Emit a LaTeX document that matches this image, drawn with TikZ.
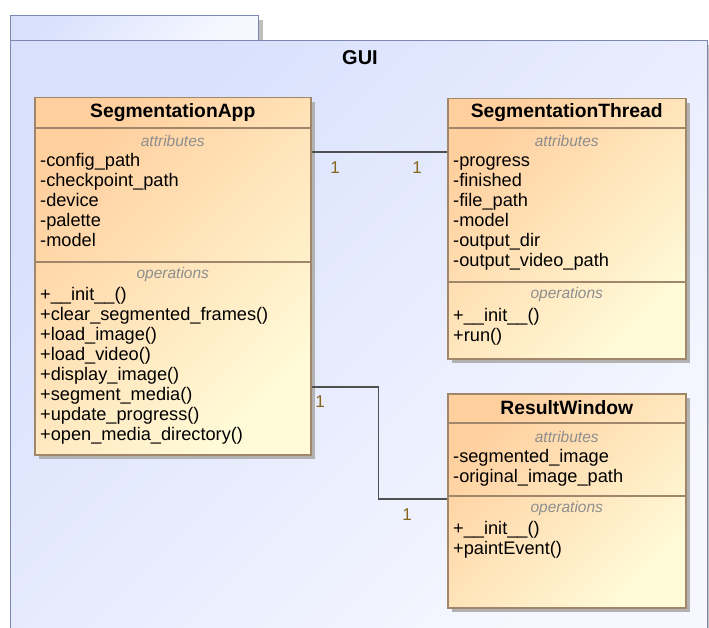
\documentclass[tikz,border=0pt]{standalone}
\usepackage{fontspec}
\setmainfont{Liberation Sans}
\usetikzlibrary{positioning,shadows}

\definecolor{pkgfill}{HTML}{D8E0FC}
\definecolor{pkgfade}{HTML}{F7F8FF}
\definecolor{pkgedge}{HTML}{7D88B0}
\definecolor{clsorange}{HTML}{FFCF9E}
\definecolor{clsyellow}{HTML}{FFFBD9}
\definecolor{clsedge}{HTML}{A0866A}
\definecolor{compgray}{HTML}{8E8E8E}
\definecolor{multgold}{HTML}{86661A}
\definecolor{assocgray}{HTML}{505050}

\tikzset{
    uml pkg/.style={draw=pkgedge, line width=1.4pt, inner sep=0pt,
                    top color=pkgfill, bottom color=pkgfade, shading angle=45,
                    anchor=north west,
                    drop shadow={shadow xshift=4pt, shadow yshift=-4pt,
                                 fill=black!25, opacity=1}},
    uml class/.style={draw=clsedge, line width=1.5pt, inner sep=0pt,
                      top color=clsorange, bottom color=clsyellow, shading angle=45,
                      anchor=north west,
                      drop shadow={shadow xshift=4pt, shadow yshift=-4pt,
                                   fill=black!30, opacity=1}},
    uml sep/.style={clsedge, line width=1.2pt},
    uml title/.style={font=\bfseries\fontsize{19.3}{22}\selectfont},
    uml comp/.style={font=\itshape\fontsize{15.5}{18}\selectfont, text=compgray},
    uml member/.style={font=\fontsize{18.2}{20}\selectfont, anchor=base west,
                       inner sep=0pt},
    uml assoc/.style={-, assocgray, line width=1.3pt},
    uml mult/.style={font=\fontsize{17}{20}\selectfont, text=multgold},
}

\begin{document}
\begin{tikzpicture}[x=1pt, y=-1pt]
    \useasboundingbox (0,0) rectangle (709,628);
    \clip (0,0) rectangle (709,628);
    \fill[white] (0,0) rectangle (709,628);

    % Package GUI
    \node[uml pkg, minimum width=248pt, minimum height=25pt] (gui-tab) at (10,15) {};
    \node[uml pkg, minimum width=697pt, minimum height=620pt] (gui) at (10,40) {};
    \node[font=\bfseries\fontsize{20}{24}\selectfont] (gui-name) at (360,58) {GUI};

    % SegmentationApp
    \node[uml class, minimum width=276pt, minimum height=357pt] (app) at (34,97) {};
    \node[uml title] (app-name) at ([yshift=-15.5pt]app.north) {SegmentationApp};
    \draw[uml sep] ([yshift=-31pt]app.north west) -- ([yshift=-31pt]app.north east);
    \node[uml comp] (app-attr) at ([yshift=-44pt]app.north) {attributes};
    \foreach \m [count=\i from 0] in {-config\_path, -checkpoint\_path, -device,
                                      -palette, -model}
        \node[uml member] (app-a\i) at (40, 167+20*\i) {\m};
    \draw[uml sep] ([yshift=-165pt]app.north west) -- ([yshift=-165pt]app.north east);
    \node[uml comp] (app-ops) at ([yshift=-177pt]app.north) {operations};
    \foreach \m [count=\i from 0] in {+\_\_init\_\_(), +clear\_segmented\_frames(),
            +load\_image(), +load\_video(), +display\_image(), +segment\_media(),
            +update\_progress(), +open\_media\_directory()}
        \node[uml member] (app-o\i) at (40, 300+20*\i) {\m};

    % SegmentationThread
    \node[uml class, minimum width=238pt, minimum height=260pt] (thread) at (447,98) {};
    \node[uml title] (thread-name) at ([yshift=-15pt]thread.north) {SegmentationThread};
    \draw[uml sep] ([yshift=-30pt]thread.north west) -- ([yshift=-30pt]thread.north east);
    \node[uml comp] (thread-attr) at ([yshift=-43pt]thread.north) {attributes};
    \foreach \m [count=\i from 0] in {-progress, -finished, -file\_path, -model,
                                      -output\_dir, -output\_video\_path}
        \node[uml member] (thread-a\i) at (453, 167+20*\i) {\m};
    \draw[uml sep] ([yshift=-184pt]thread.north west) -- ([yshift=-184pt]thread.north east);
    \node[uml comp] (thread-ops) at ([yshift=-196pt]thread.north) {operations};
    \foreach \m [count=\i from 0] in {+\_\_init\_\_(), +run()}
        \node[uml member] (thread-o\i) at (453, 321+20*\i) {\m};

    % ResultWindow
    \node[uml class, minimum width=238pt, minimum height=214pt] (result) at (447,393) {};
    \node[uml title] (result-name) at ([yshift=-15pt]result.north) {ResultWindow};
    \draw[uml sep] ([yshift=-30pt]result.north west) -- ([yshift=-30pt]result.north east);
    \node[uml comp] (result-attr) at ([yshift=-44pt]result.north) {attributes};
    \foreach \m [count=\i from 0] in {-segmented\_image, -original\_image\_path}
        \node[uml member] (result-a\i) at (453, 462+20*\i) {\m};
    \draw[uml sep] ([yshift=-103pt]result.north west) -- ([yshift=-103pt]result.north east);
    \node[uml comp] (result-ops) at ([yshift=-115pt]result.north) {operations};
    \foreach \m [count=\i from 0] in {+\_\_init\_\_(), +paintEvent()}
        \node[uml member] (result-o\i) at (453, 534+20*\i) {\m};

    % Associations
    \draw[uml assoc] ([yshift=-55pt]app.north east) -- ([yshift=-54pt]thread.north west);
    \node[uml mult] (m-app1) at (335,168) {1};
    \node[uml mult] (m-thread) at (417,168) {1};

    \draw[uml assoc] ([yshift=-290pt]app.north east) -- ++(67,0)
        |- ([yshift=-106pt]result.north west);
    \node[uml mult] (m-app2) at (320,402) {1};
    \node[uml mult] (m-result) at (407,515) {1};
\end{tikzpicture}
\end{document}
